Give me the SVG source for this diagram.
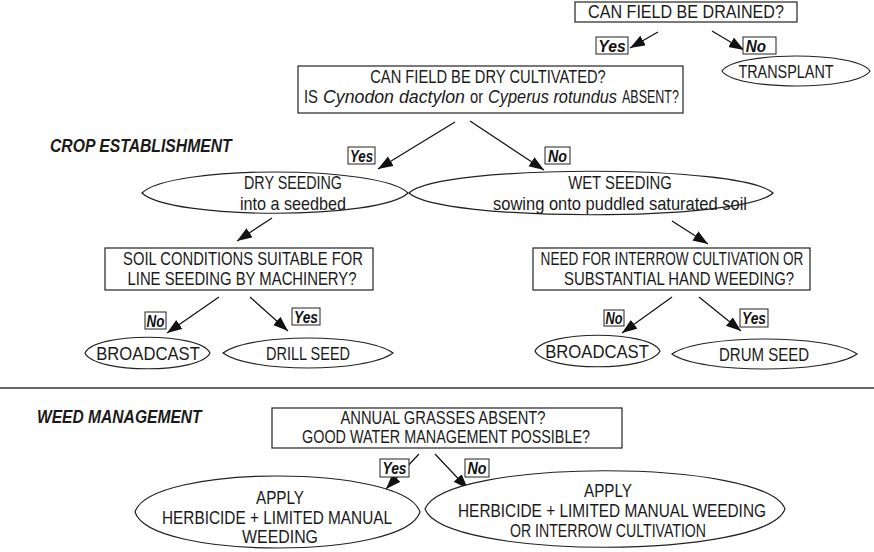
<svg xmlns="http://www.w3.org/2000/svg" width="874" height="552" viewBox="0 0 874 552">
  <defs>
    <marker id="arrow" markerUnits="userSpaceOnUse" markerWidth="16" markerHeight="12" refX="15" refY="5.5" orient="auto">
      <path d="M0,0 L15,5.5 L0,11 Z" fill="#111"/>
    </marker>
    <style>
      text { font-family: "Liberation Sans", Arial, sans-serif; fill: #1a1a1a; }
      .t { font-size: 18px; text-anchor: middle; }
      .s { font-size: 18px; text-anchor: start; }
      .i { font-style: italic; }
      .l { font-size: 17px; font-weight: bold; font-style: italic; fill: #111; text-anchor: middle; }
      .h { font-size: 18px; font-weight: bold; font-style: italic; }
      .box { fill: #fff; stroke: #222; stroke-width: 1.2; }
      .tag { fill: #fff; stroke: #222; stroke-width: 1; }
      .oval { fill: #fff; stroke: #222; stroke-width: 1.2; }
      .c { stroke: #111; stroke-width: 1.2; fill: none; marker-end: url(#arrow); }
      .rule { stroke: #333; stroke-width: 1.5; }
    </style>
  </defs>
  <rect width="874" height="552" fill="#fff"/>

  <!-- connectors -->
  <g id="connectors">
    <line class="c" x1="658" y1="32" x2="630" y2="48"/>
    <line class="c" x1="712" y1="31" x2="744" y2="50"/>
    <line class="c" x1="455" y1="122" x2="378" y2="169"/>
    <line class="c" x1="470" y1="121" x2="544" y2="170"/>
    <line class="c" x1="272" y1="218" x2="237" y2="241"/>
    <line class="c" x1="672" y1="221" x2="708" y2="244"/>
    <line class="c" x1="219" y1="297" x2="167" y2="333"/>
    <line class="c" x1="250" y1="297" x2="288" y2="331"/>
    <line class="c" x1="672" y1="297" x2="622" y2="333"/>
    <line class="c" x1="699" y1="297" x2="741" y2="331"/>
    <line class="c" x1="419" y1="454" x2="386" y2="489"/>
    <line class="c" x1="435" y1="454" x2="468" y2="489"/>
  </g>

  <!-- section titles and divider (glyphs narrowed to a condensed face) -->
  <text class="h" transform="translate(50,152) scale(0.78,1)" textLength="233" lengthAdjust="spacingAndGlyphs">CROP ESTABLISHMENT</text>
  <line class="rule" x1="0" y1="388" x2="874" y2="388"/>
  <text class="h" transform="translate(37,423) scale(0.78,1)" textLength="211" lengthAdjust="spacingAndGlyphs">WEED MANAGEMENT</text>

  <!-- branch labels -->
  <g id="labels">
    <rect class="tag" x="596" y="37" width="32" height="17"/>
    <text class="l" transform="translate(612,52) scale(0.78,1)" textLength="35" lengthAdjust="spacingAndGlyphs">Yes</text>
    <rect class="tag" x="743" y="37" width="33" height="17"/>
    <text class="l" transform="translate(756,52) scale(0.78,1)" textLength="26" lengthAdjust="spacingAndGlyphs">No</text>
    <rect class="tag" x="348" y="147" width="27" height="17"/>
    <text class="l" transform="translate(361.5,162) scale(0.78,1)" textLength="29.5" lengthAdjust="spacingAndGlyphs">Yes</text>
    <rect class="tag" x="545" y="147" width="25" height="17"/>
    <text class="l" transform="translate(557.5,162) scale(0.78,1)" textLength="24.4" lengthAdjust="spacingAndGlyphs">No</text>
    <rect class="tag" x="145" y="312" width="21" height="17"/>
    <text class="l" transform="translate(155.5,327) scale(0.78,1)" textLength="23" lengthAdjust="spacingAndGlyphs">No</text>
    <rect class="tag" x="292" y="308" width="28" height="17"/>
    <text class="l" transform="translate(306,323) scale(0.78,1)" textLength="30.8" lengthAdjust="spacingAndGlyphs">Yes</text>
    <rect class="tag" x="604" y="310" width="20" height="16"/>
    <text class="l" transform="translate(614,324) scale(0.78,1)" textLength="21.8" lengthAdjust="spacingAndGlyphs">No</text>
    <rect class="tag" x="740" y="309" width="28" height="18"/>
    <text class="l" transform="translate(754,324) scale(0.78,1)" textLength="30.8" lengthAdjust="spacingAndGlyphs">Yes</text>
    <rect class="tag" x="380" y="459" width="29" height="18"/>
    <text class="l" transform="translate(394.5,474) scale(0.78,1)" textLength="30.8" lengthAdjust="spacingAndGlyphs">Yes</text>
    <rect class="tag" x="465" y="459" width="24" height="18"/>
    <text class="l" transform="translate(477,474) scale(0.78,1)" textLength="24.4" lengthAdjust="spacingAndGlyphs">No</text>
  </g>

  <!-- question boxes and outcomes -->
  <g id="q-drained">
    <rect class="box" x="575" y="2" width="222" height="20"/>
    <text class="t" transform="translate(686,18) scale(0.78,1)" textLength="251" lengthAdjust="spacingAndGlyphs">CAN FIELD BE DRAINED?</text>
  </g>
  <g id="transplant">
    <path class="oval" d="M722,71 C735,51 857,51 870,71 C857,91 735,91 722,71 Z"/>
    <text class="t" transform="translate(786,78) scale(0.78,1)" textLength="122" lengthAdjust="spacingAndGlyphs">TRANSPLANT</text>
  </g>
  <g id="q-dry">
    <rect class="box" x="298" y="66" width="385" height="47"/>
    <text class="t" transform="translate(488,83) scale(0.78,1)" textLength="302" lengthAdjust="spacingAndGlyphs">CAN FIELD BE DRY CULTIVATED?</text>
    <text class="s" transform="translate(304,103) scale(0.78,1)" textLength="18" lengthAdjust="spacingAndGlyphs">IS</text>
    <text class="s i" transform="translate(323,103) scale(0.78,1)" textLength="182" lengthAdjust="spacingAndGlyphs">Cynodon dactylon</text>
    <text class="s" transform="translate(470,103) scale(0.78,1)" textLength="16.7" lengthAdjust="spacingAndGlyphs">or</text>
    <text class="s i" transform="translate(488,103) scale(0.78,1)" textLength="165.4" lengthAdjust="spacingAndGlyphs">Cyperus rotundus</text>
    <text class="s" transform="translate(622,103) scale(0.78,1)" textLength="73" lengthAdjust="spacingAndGlyphs">ABSENT?</text>
  </g>
  <g id="dry-seeding">
    <path class="oval" d="M142,193 C170,165 380,165 408,193 C380,220 170,220 142,193 Z"/>
    <text class="t" transform="translate(293,189) scale(0.78,1)" textLength="125.6" lengthAdjust="spacingAndGlyphs">DRY SEEDING</text>
    <text class="t" transform="translate(293,209.5) scale(0.78,1)" textLength="136" lengthAdjust="spacingAndGlyphs">into a seedbed</text>
  </g>
  <g id="wet-seeding">
    <path class="oval" d="M409,193 C440,164 742,164 773,193 C742,222 440,222 409,193 Z"/>
    <text class="t" transform="translate(620,189) scale(0.78,1)" textLength="133" lengthAdjust="spacingAndGlyphs">WET SEEDING</text>
    <text class="t" transform="translate(620,209.5) scale(0.78,1)" textLength="325.6" lengthAdjust="spacingAndGlyphs">sowing onto puddled saturated soil</text>
  </g>
  <g id="q-soil">
    <rect class="box" x="105" y="248" width="268" height="42"/>
    <text class="t" transform="translate(243,265) scale(0.78,1)" textLength="307.7" lengthAdjust="spacingAndGlyphs">SOIL CONDITIONS SUITABLE FOR</text>
    <text class="t" transform="translate(242,285) scale(0.78,1)" textLength="293.6" lengthAdjust="spacingAndGlyphs">LINE SEEDING BY MACHINERY?</text>
  </g>
  <g id="q-interrow">
    <rect class="box" x="533" y="248" width="277" height="42"/>
    <text class="t" transform="translate(672,265) scale(0.78,1)" textLength="337" lengthAdjust="spacingAndGlyphs">NEED FOR INTERROW CULTIVATION OR</text>
    <text class="t" transform="translate(679,285) scale(0.78,1)" textLength="295" lengthAdjust="spacingAndGlyphs">SUBSTANTIAL HAND WEEDING?</text>
  </g>
  <g id="broadcast-dry">
    <path class="oval" d="M85,353 C95,332 200,332 210,353 C200,374 95,374 85,353 Z"/>
    <text class="t" transform="translate(148,360) scale(0.78,1)" textLength="133" lengthAdjust="spacingAndGlyphs">BROADCAST</text>
  </g>
  <g id="drill-seed">
    <path class="oval" d="M223,353 C250,333 366,333 393,353 C366,373 250,373 223,353 Z"/>
    <text class="t" transform="translate(308,360) scale(0.78,1)" textLength="107.7" lengthAdjust="spacingAndGlyphs">DRILL SEED</text>
  </g>
  <g id="broadcast-wet">
    <path class="oval" d="M535,351 C545,330 650,330 660,351 C650,372 545,372 535,351 Z"/>
    <text class="t" transform="translate(597,358) scale(0.78,1)" textLength="133" lengthAdjust="spacingAndGlyphs">BROADCAST</text>
  </g>
  <g id="drum-seed">
    <path class="oval" d="M672,354 C700,334 829,334 857,354 C829,374 700,374 672,354 Z"/>
    <text class="t" transform="translate(764,361) scale(0.78,1)" textLength="115.4" lengthAdjust="spacingAndGlyphs">DRUM SEED</text>
  </g>
  <g id="q-grasses">
    <rect class="box" x="272" y="408" width="350" height="40"/>
    <text class="t" transform="translate(443,424) scale(0.78,1)" textLength="262.8" lengthAdjust="spacingAndGlyphs">ANNUAL GRASSES ABSENT?</text>
    <text class="t" transform="translate(446,443) scale(0.78,1)" textLength="369.2" lengthAdjust="spacingAndGlyphs">GOOD WATER MANAGEMENT POSSIBLE?</text>
  </g>
  <g id="herbicide-limited">
    <path class="oval" d="M135,512 C150,464 405,464 420,512 C405,560 150,560 135,512 Z"/>
    <text class="t" transform="translate(280,504) scale(0.78,1)" textLength="61.5" lengthAdjust="spacingAndGlyphs">APPLY</text>
    <text class="t" transform="translate(277,524) scale(0.78,1)" textLength="294.9" lengthAdjust="spacingAndGlyphs">HERBICIDE + LIMITED MANUAL</text>
    <text class="t" transform="translate(280,543) scale(0.78,1)" textLength="97.4" lengthAdjust="spacingAndGlyphs">WEEDING</text>
  </g>
  <g id="herbicide-interrow">
    <path class="oval" d="M425,509 C444,458 766,458 785,509 C766,560 444,560 425,509 Z"/>
    <text class="t" transform="translate(608,497) scale(0.78,1)" textLength="61.5" lengthAdjust="spacingAndGlyphs">APPLY</text>
    <text class="t" transform="translate(612,517) scale(0.78,1)" textLength="394.9" lengthAdjust="spacingAndGlyphs">HERBICIDE + LIMITED MANUAL WEEDING</text>
    <text class="t" transform="translate(608,537) scale(0.78,1)" textLength="251.3" lengthAdjust="spacingAndGlyphs">OR INTERROW CULTIVATION</text>
  </g>
</svg>
